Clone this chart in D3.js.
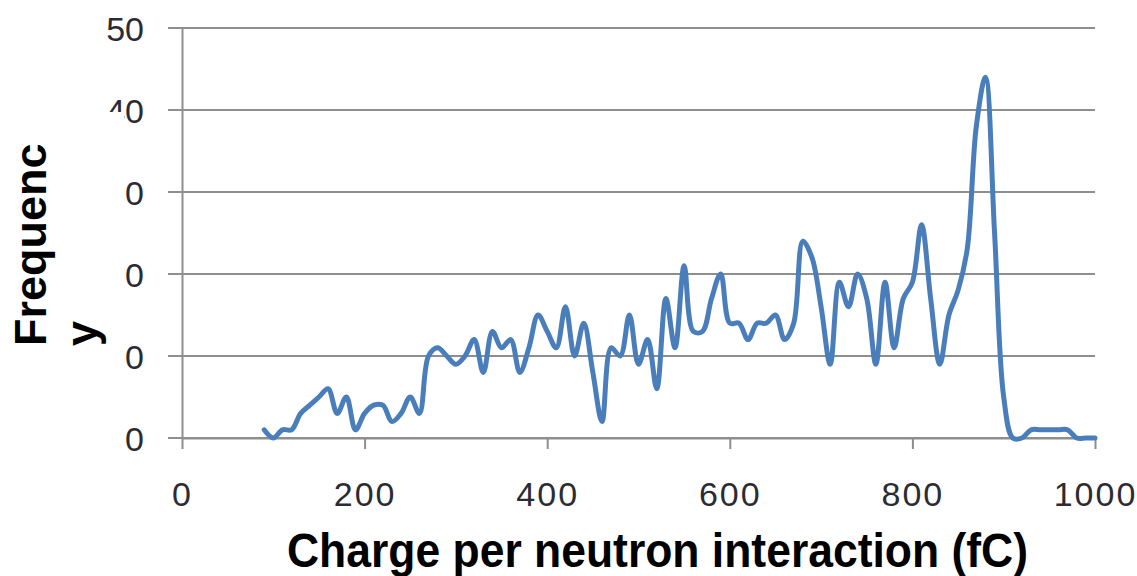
<!DOCTYPE html>
<html>
<head>
<meta charset="utf-8">
<script src="https://cdn.jsdelivr.net/npm/d3@7"></script>
<style>
  body { margin: 0; background: #fff; }
  svg { display: block; }
</style>
</head>
<body>
<svg id="chart" width="1137" height="576"></svg>
<script>
// charge bins (fC) and counts
const charge = [
  90, 100, 110, 120, 130, 140, 150, 160, 170, 180, 190, 200, 210, 220, 230, 240,
  250, 260, 270, 280, 290, 300, 310, 320, 330, 340, 350, 360, 370, 380, 390, 400,
  410, 420, 430, 440, 450, 460, 470, 480, 490, 500, 510, 520, 530, 540, 550, 560,
  570, 580, 590, 600, 610, 620, 630, 640, 650, 660, 670, 680, 690, 700, 710, 720,
  730, 740, 750, 760, 770, 780, 790, 800, 810, 820, 830, 840, 850, 860, 870, 880,
  890, 900, 910, 920, 930, 940, 950, 960, 970, 980, 990, 1000
];
const frequency = [
  1, 0, 1, 1, 3, 4, 5, 6, 3, 5, 1, 3, 4, 4, 2, 3,
  5, 3, 10, 11, 10, 9, 10, 12, 8, 13, 11, 12, 8, 11, 15, 13,
  11, 16, 10, 14, 8, 2, 11, 10, 15, 9, 12, 6, 17, 11, 21, 13,
  13, 17, 20, 14, 14, 12, 14, 14, 15, 12, 14, 24, 22, 16, 9, 19,
  16, 20, 17, 9, 19, 11, 17, 19, 26, 17, 9, 15, 18, 23, 38, 44,
  25, 5, 0, 0, 1, 1, 1, 1, 1, 0, 0, 0
];
const xTicks = [0, 200, 400, 600, 800, 1000];
const yTicks = [0, 10, 20, 30, 40, 50];

const svg = d3.select("svg#chart");
const gridColor = "#8e8e8e";
const textColor = "#2b2b33";

const x = d3.scaleLinear().domain([0, 1000]).range([182, 1095]);
const y = d3.scaleLinear().domain([0, 50]).range([438, 28]);

// horizontal gridlines (left ticks stick out past the axis)
svg.append("g")
  .selectAll("line")
  .data(yTicks)
  .enter()
  .append("line")
  .attr("x1", 168)
  .attr("x2", x(1000))
  .attr("y1", (d) => y(d))
  .attr("y2", (d) => y(d))
  .attr("stroke", gridColor)
  .attr("stroke-width", 2);

// y axis
const yAxis = svg.append("g")
  .attr("transform", "translate(" + x(0) + ",0)")
  .call(d3.axisLeft(y).tickValues(yTicks).tickSize(0).tickPadding(38));
yAxis.select(".domain").attr("stroke", gridColor).attr("stroke-width", 2);
yAxis.selectAll("text")
  .attr("fill", textColor)
  .attr("font-family", "Liberation Sans, Arial, sans-serif")
  .attr("font-size", 34)
  .attr("dy", "0.36em");

// x axis
const xAxis = svg.append("g")
  .attr("transform", "translate(0," + y(0) + ")")
  .call(
    d3.axisBottom(x)
      .tickValues(xTicks)
      .tickFormat(d3.format("d"))
      .tickSize(11)
      .tickSizeOuter(0)
      .tickPadding(33)
  );
xAxis.select(".domain").attr("stroke", gridColor).attr("stroke-width", 2);
xAxis.selectAll(".tick line").attr("stroke", gridColor).attr("stroke-width", 2);
xAxis.selectAll("text")
  .attr("fill", textColor)
  .attr("font-family", "Liberation Sans, Arial, sans-serif")
  .attr("font-size", 34)
  .attr("letter-spacing", 2);

// the data line, smoothed
const line = d3.line()
  .x((d, i) => x(charge[i]))
  .y((d) => y(d))
  .curve(d3.curveCatmullRom.alpha(0.5));

svg.append("path")
  .attr("d", line(frequency))
  .attr("fill", "none")
  .attr("stroke", "#4a7ebb")
  .attr("stroke-width", 5)
  .attr("stroke-linejoin", "round")
  .attr("stroke-linecap", "round");

// white box behind the y title hides part of the tick labels
svg.append("rect")
  .attr("x", 0)
  .attr("y", 112)
  .attr("width", 124)
  .attr("height", 260)
  .attr("fill", "#fff");

const yTitle = svg.append("text")
  .attr("transform", "translate(46,346) rotate(-90)")
  .attr("font-family", "Liberation Sans, Arial, sans-serif")
  .attr("font-weight", "bold")
  .attr("font-size", 45)
  .attr("fill", "#000");
yTitle.append("tspan").attr("x", 0).attr("y", 0).text("Frequenc");
yTitle.append("tspan").attr("x", 0).attr("y", 51).text("y");

svg.append("text")
  .attr("x", 287)
  .attr("y", 567)
  .attr("textLength", 741)
  .attr("lengthAdjust", "spacingAndGlyphs")
  .attr("font-family", "Liberation Sans, Arial, sans-serif")
  .attr("font-weight", "bold")
  .attr("font-size", 48)
  .attr("fill", "#000")
  .text("Charge per neutron interaction (fC)");
</script>
</body>
</html>
